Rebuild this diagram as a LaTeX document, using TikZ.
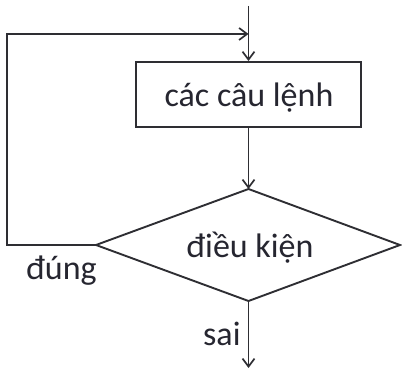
\documentclass[tikz,border=0pt]{standalone}
\usepackage{fontspec}
\setmainfont{Carlito}
\usetikzlibrary{arrows.meta,shapes.geometric}
\definecolor{ink}{HTML}{2E2E33}
\definecolor{txt}{HTML}{262630}
\tikzset{
  line/.style={draw=ink,line width=1.9pt},
  arr/.style={line,-{Straight Barb[length=8pt,width=12pt,line width=1.7pt]}},
  lbl/.style={font=\fontsize{34}{40}\selectfont,text=txt,inner sep=0pt},
}
\begin{document}
\begin{tikzpicture}[x=1pt,y=-1pt]
\useasboundingbox (0,0) rectangle (402,374);
\node[line,rectangle,minimum width=225pt,minimum height=65pt,inner sep=0pt] (box) at (248.5,94.5) {};
\node[lbl,anchor=base] (boxtext) at (249,107) {các câu lệnh};
\draw[line] (96,245) -- (248.5,189) -- (400,245) -- (248.5,301) -- cycle;
\coordinate (L) at (96,245);
\coordinate (T) at (248.5,189);
\coordinate (B) at (248.5,301);
\node[lbl,anchor=base] (cond) at (250,258) {điều kiện};
\coordinate (start) at (248.5,6);
\coordinate (join) at (248.5,34);
\coordinate (c1) at (7,245);
\coordinate (c2) at (7,34);
\coordinate (endp) at (248.5,368);
\draw[line] (start) -- (join);
\draw[arr] (join) -- (box.north);
\draw[arr] (box.south) -- (T);
\draw[arr] (L) -- (c1) -- (c2) -- (join);
\draw[arr] (B) -- (endp);
\node[lbl,anchor=base west] (dung) at (26,280) {đúng};
\node[lbl,anchor=base west] (sai) at (203,345) {sai};
\end{tikzpicture}
\end{document}
